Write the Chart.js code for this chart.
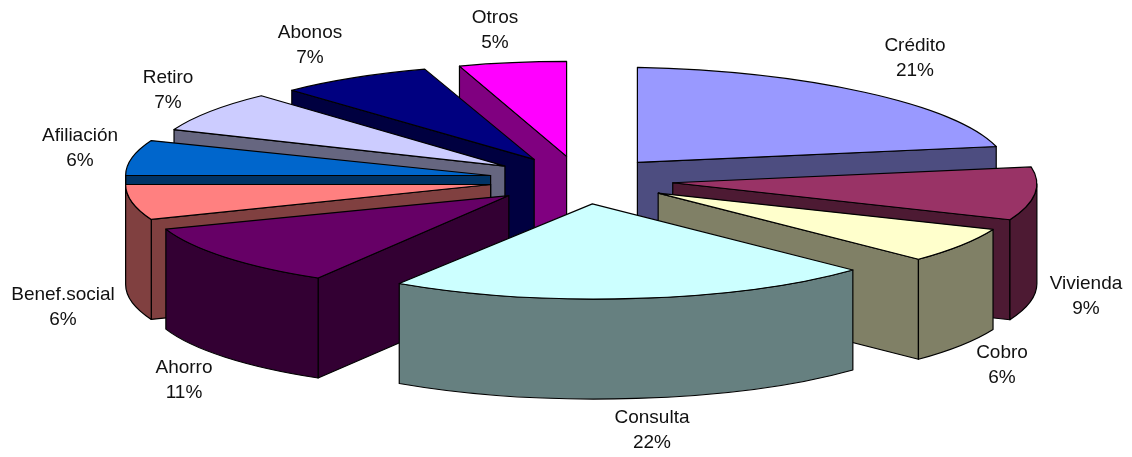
<!DOCTYPE html>
<html>
<head>
<meta charset="utf-8">
<title>Distribución</title>
<script src="https://cdn.jsdelivr.net/npm/chart.js@4"></script>
<style>
    html, body { margin: 0; padding: 0; background: #fff; }
    canvas { display: block; }
</style>
</head>
<body>
<canvas id="pieChart" width="1132" height="457"></canvas>
<script>
const categories = ["Crédito", "Vivienda", "Cobro", "Consulta", "Ahorro", "Benef.social", "Afiliación", "Retiro", "Abonos", "Otros"];
const percents = [21, 9, 6, 22, 11, 6, 6, 7, 7, 5];
const topColors = ["#9999FF", "#993366", "#FFFFCC", "#CCFFFF", "#660066", "#FF8080", "#0066CC", "#CCCCFF", "#000080", "#FF00FF"];
const wallColors = ["#4D4D80", "#4D1A33", "#808066", "#668080", "#330033", "#804040", "#003366", "#666680", "#000040", "#800080"];

// centre of the first label line for each slice
const labelSpots = [[915, 46], [1086, 284], [1002, 353], [652, 418], [184, 368], [63, 295], [80, 136], [168, 78], [310, 33], [495, 18]];
const labelLineHeight = 25;

// projection of the flat pie
const pieRadius = 365;
const squash = 0.26;
const pieCenter = { x: 581, y: 180 };
const explode = 92;
const depth = 100;
// fake perspective: near slices lean left, far left ones get narrower, right ones dip
const sliceLean = [0, 0.28, 0.3, 0.25, 0.2, 0, 0, 0, 0, 0];
const sliceWidth = [1.015, 0.995, 0.99, 0.98, 0.99, 1, 1, 0.975, 0.97, 0.95];
const sliceTilt = [0.022, 0.022, 0.02, 0.02, 0.004, 0, 0, 0.005, 0, 0];

function sliceGeometry(arc, i) {
    const mid = (arc.startAngle + arc.endAngle) / 2;
    const offX = Math.cos(mid) * explode;
    const offY = Math.sin(mid) * explode;
    const shearX = -sliceLean[i] * squash;
    return {
        a: sliceWidth[i],
        b: sliceTilt[i],
        c: shearX,
        d: squash,
        e: pieCenter.x + offX + shearX * offY,
        f: pieCenter.y + squash * offY + sliceTilt[i] * offX,
        r: arc.outerRadius,
        start: arc.startAngle,
        end: arc.endAngle,
        mid: mid
    };
}

function enterPlane(ctx, g) {
    ctx.transform(g.a, g.b, g.c, g.d, g.e, g.f);
}

function rimVector(g, angle) {
    const u = Math.cos(angle) * g.r;
    const v = Math.sin(angle) * g.r;
    return [g.a * u + g.c * v, g.b * u + g.d * v];
}

// a cut face shows only when the slice top lies above its edge on screen
function cutWallVisible(g, angle) {
    const edge = rimVector(g, angle);
    if (Math.abs(edge[0]) < 1e-6) return false;
    const inner = rimVector(g, g.mid);
    return Math.sign(edge[0]) * (edge[0] * inner[1] - edge[1] * inner[0]) < 0;
}

function drawCutWall(ctx, g, angle, color) {
    const rim = rimVector(g, angle);
    ctx.beginPath();
    ctx.moveTo(g.e, g.f);
    ctx.lineTo(g.e + rim[0], g.f + rim[1]);
    ctx.lineTo(g.e + rim[0], g.f + rim[1] + depth);
    ctx.lineTo(g.e, g.f + depth);
    ctx.closePath();
    ctx.fillStyle = color;
    ctx.fill();
    ctx.stroke();
}

function drawRimWall(ctx, g, color) {
    // rim part between the two vertical tangents faces the viewer
    const tangent = Math.atan2(g.c, g.a);
    const from = Math.max(g.start, tangent);
    const to = Math.min(g.end, tangent + Math.PI);
    if (from >= to) return;

    ctx.beginPath();
    ctx.save();
    enterPlane(ctx, g);
    ctx.arc(0, 0, g.r, from, to);
    ctx.restore();
    ctx.save();
    ctx.translate(0, depth);
    enterPlane(ctx, g);
    ctx.arc(0, 0, g.r, to, from, true);
    ctx.restore();
    ctx.closePath();
    ctx.fillStyle = color;
    ctx.fill();
    ctx.stroke();
}

const pie3dPlugin = {
    id: "pie3d",
    beforeDatasetsDraw(chart) {
        const ctx = chart.ctx;
        const arcs = chart.getDatasetMeta(0).data;

        // back slices first, so the front ones paint over them
        const order = arcs.map((arc, i) => i).sort((a, b) => {
            const midA = (arcs[a].startAngle + arcs[a].endAngle) / 2;
            const midB = (arcs[b].startAngle + arcs[b].endAngle) / 2;
            return Math.sin(midA) - Math.sin(midB);
        });

        ctx.save();
        ctx.strokeStyle = "#000";
        ctx.lineWidth = 1.2;
        ctx.lineJoin = "round";

        order.forEach(i => {
            const arc = arcs[i];
            const g = sliceGeometry(arc, i);

            if (cutWallVisible(g, g.start)) drawCutWall(ctx, g, g.start, wallColors[i]);
            if (cutWallVisible(g, g.end)) drawCutWall(ctx, g, g.end, wallColors[i]);
            drawRimWall(ctx, g, wallColors[i]);

            // top face comes from the library's own arc element
            ctx.save();
            enterPlane(ctx, g);
            ctx.translate(-arc.x, -arc.y);
            arc.draw(ctx);
            ctx.restore();

            // outline after leaving the plane, so the line keeps an even width
            ctx.beginPath();
            ctx.save();
            enterPlane(ctx, g);
            ctx.moveTo(0, 0);
            ctx.arc(0, 0, g.r, g.start, g.end);
            ctx.closePath();
            ctx.restore();
            ctx.stroke();
        });
        ctx.restore();

        ctx.save();
        ctx.fillStyle = "#111";
        ctx.font = "19px 'Liberation Sans', Arial, sans-serif";
        ctx.textAlign = "center";
        ctx.textBaseline = "middle";
        categories.forEach((name, i) => {
            ctx.fillText(name, labelSpots[i][0], labelSpots[i][1]);
            ctx.fillText(percents[i] + "%", labelSpots[i][0], labelSpots[i][1] + labelLineHeight);
        });
        ctx.restore();

        return false;
    }
};

new Chart(document.getElementById("pieChart"), {
    type: "pie",
    data: {
        labels: categories,
        datasets: [{
            data: percents,
            backgroundColor: topColors,
            borderWidth: 0
        }]
    },
    options: {
        responsive: false,
        animation: false,
        radius: pieRadius,
        plugins: {
            legend: { display: false },
            tooltip: { enabled: false }
        }
    },
    plugins: [pie3dPlugin]
});
</script>
</body>
</html>
